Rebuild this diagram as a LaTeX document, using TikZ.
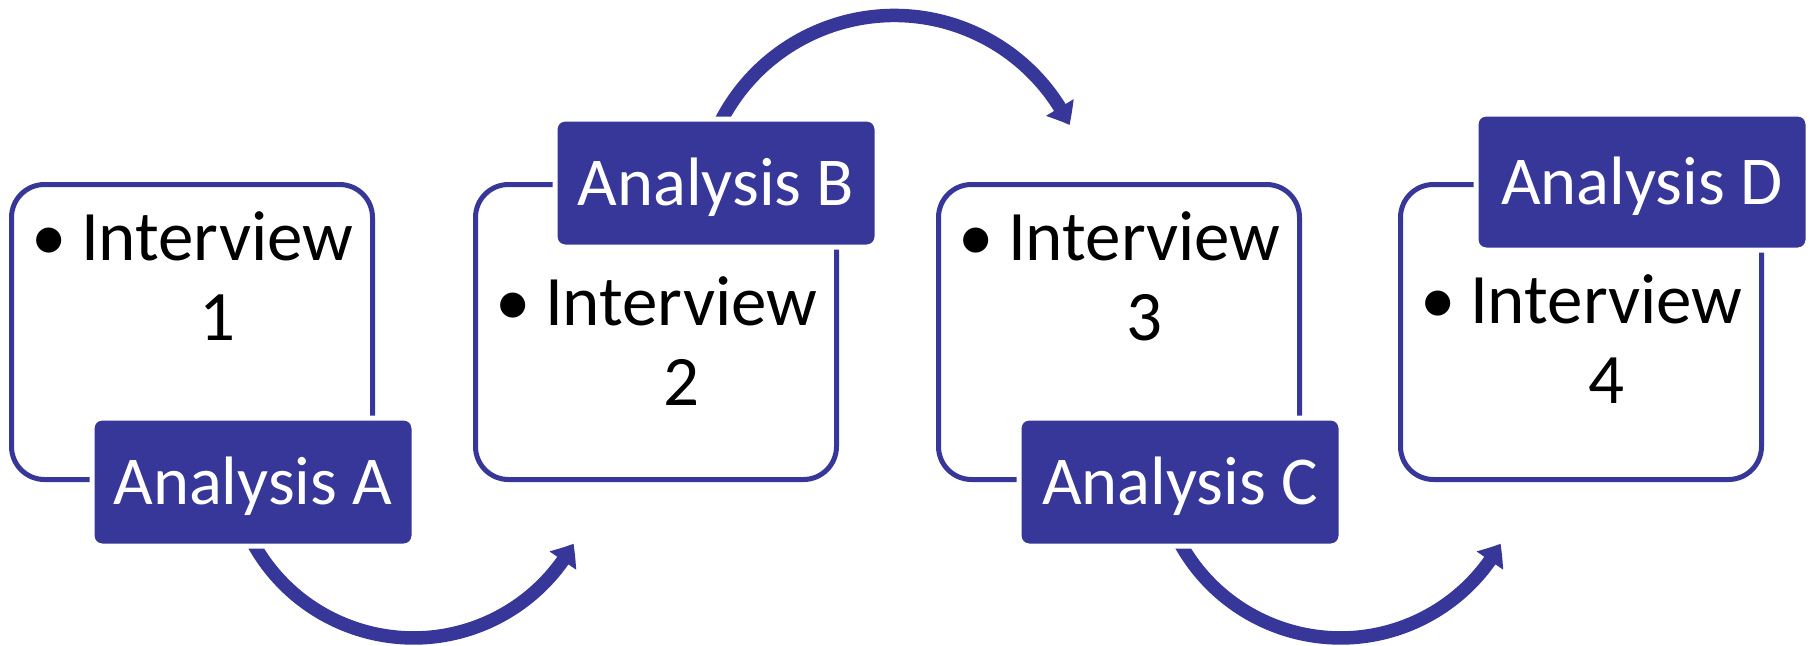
\documentclass[tikz,border=0pt]{standalone}
\usepackage{fontspec}
\setmainfont{Carlito}
\usetikzlibrary{arrows.meta,bending,backgrounds}
\definecolor{indigo}{RGB}{55,54,153}
\newcommand\ivtext[1]{\begin{tabular}[t]{@{}l@{\hspace{1.4mm}}c@{}}\textbullet & Interview\\ & #1\end{tabular}}

\begin{document}
\begin{tikzpicture}[x=0.1mm, y=0.1mm,
	interview/.style = {draw=indigo, line width=0.5mm, rounded corners=3.3mm, minimum width=36.1mm, minimum height=29.5mm, inner sep=0},
	analysis/.style = {fill=indigo, draw=white, line width=0.5mm, rounded corners=1mm, minimum width=32.2mm, minimum height=12.8mm, inner sep=0, text=white, font=\fontsize{19.5}{23}\selectfont, text height=4.4mm, text depth=0pt},
	bullettext/.style = {anchor=base west, inner sep=0, font=\fontsize{20.2}{22.8}\selectfont},
	flow/.style = {draw=indigo, line width=1.35mm, -{Triangle[length=2mm, width=3.1mm, bend]}}]
	\useasboundingbox (0,0) rectangle (1810,645);
	\node[interview] (iv1) at (192,313){};
	\node[interview] (iv2) at (656,313){};
	\node[interview] (iv3) at (1119,313){};
	\node[interview] (iv4) at (1581,313){};
	\node[analysis] (anA) at ([shift={(61,-150)}]iv1.center){Analysis A};
	\node[analysis] (anB) at ([shift={(60,149)}]iv2.center){Analysis B};
	\node[analysis] (anC) at ([shift={(61,-150)}]iv3.center){Analysis C};
	\node[analysis, minimum width=33.2mm, minimum height=13.6mm] (anD) at ([shift={(61,150)}]iv4.center){Analysis D};
	\node[bullettext] (t1) at ([shift={(22,-78)}]iv1.north west){\ivtext{1}};
	\node[bullettext] (t2) at ([shift={(22,-143)}]iv2.north west){\ivtext{2}};
	\node[bullettext] (t3) at ([shift={(22,-78)}]iv3.north west){\ivtext{3}};
	\node[bullettext] (t4) at ([shift={(22,-141)}]iv4.north west){\ivtext{4}};
	\begin{scope}[on background layer]
	\draw[flow] ([shift={(-2.6,10.5)}]anA.south) arc[start angle=207, end angle=331, radius=18.3mm];
	\draw[flow] ([shift={(3,-8.5)}]anB.north) arc[start angle=154, end angle=26, radius=19.5mm];
	\draw[flow] ([shift={(-2.6,10.5)}]anC.south) arc[start angle=207, end angle=331, radius=18.3mm];
	\end{scope}
\end{tikzpicture}
\end{document}
